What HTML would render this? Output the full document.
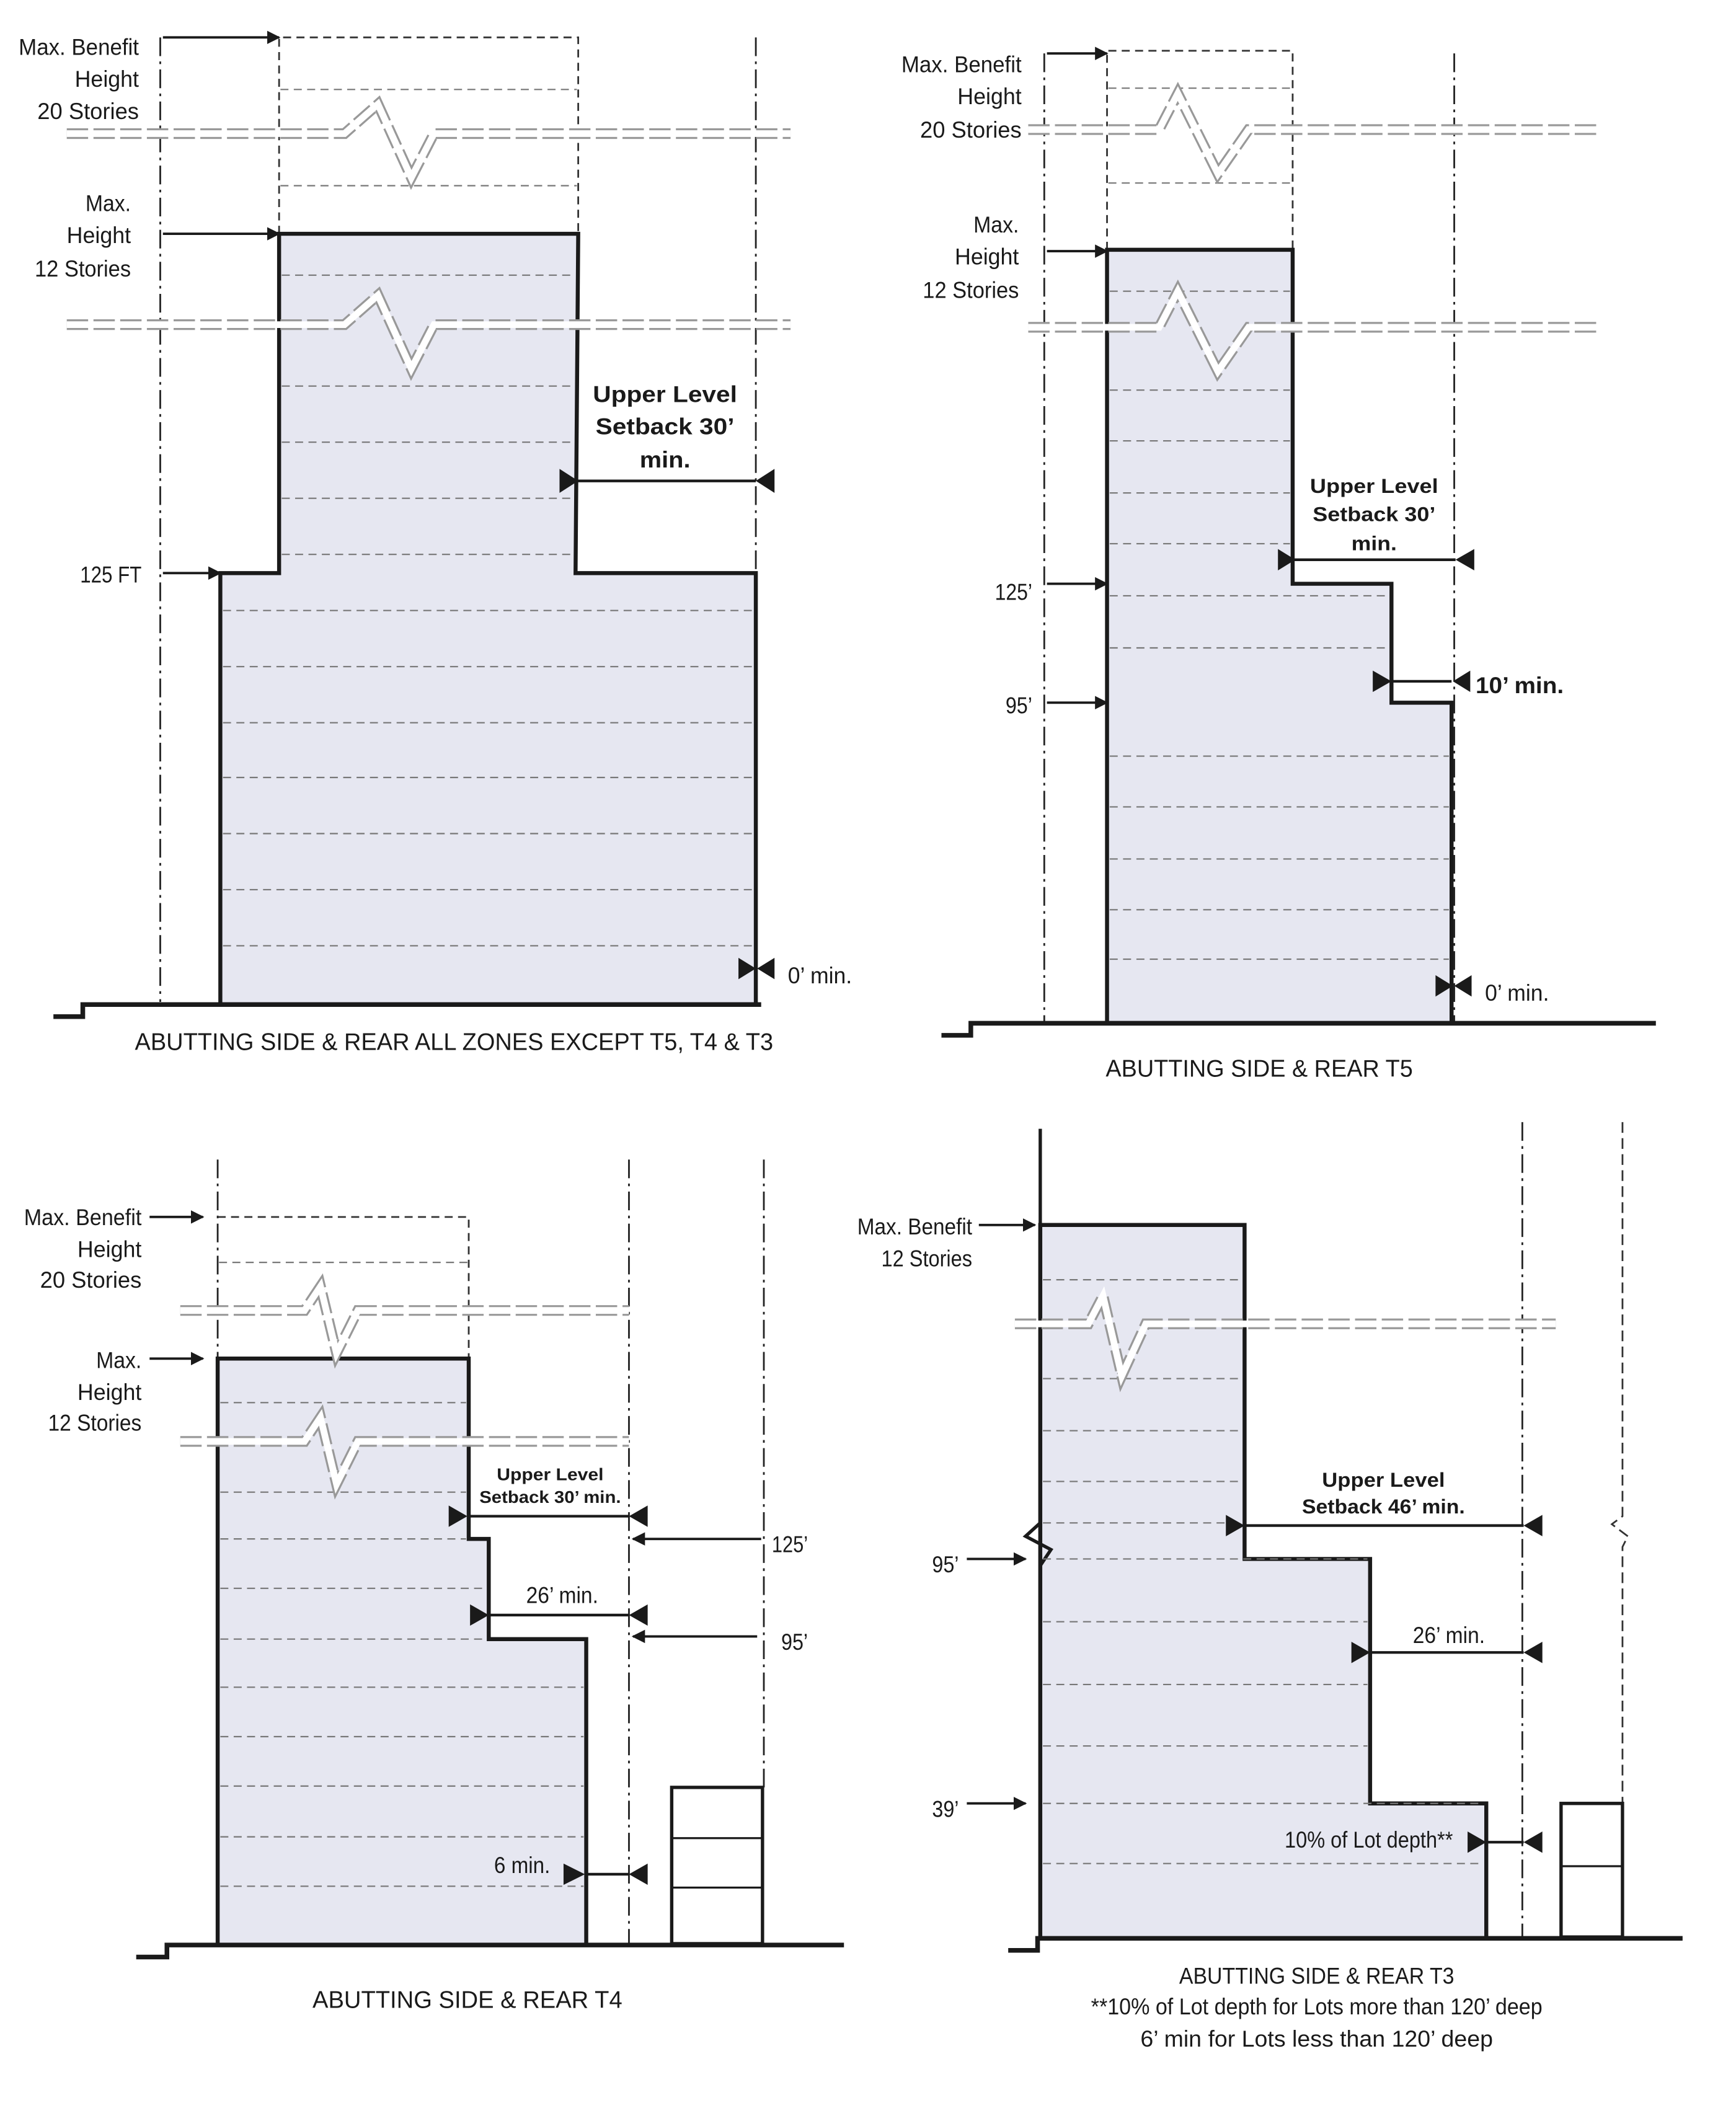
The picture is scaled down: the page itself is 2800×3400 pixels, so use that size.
<!DOCTYPE html>
<html><head><meta charset="utf-8"><style>
html,body{margin:0;padding:0;background:#fff;}
svg{display:block;}
text{font-family:"Liberation Sans",sans-serif;fill:#1a1a1a;}
.l{font-size:17px;}
.b{font-weight:bold;}
.c{font-size:18px;}
</style></head><body>
<svg width="2800" height="3400" viewBox="0 0 1300 1578" preserveAspectRatio="none" xmlns="http://www.w3.org/2000/svg">
<defs>
<marker id="ah" markerWidth="10" markerHeight="10" refX="9" refY="5" orient="auto" markerUnits="userSpaceOnUse" viewBox="0 0 10 10"><path d="M0,0 L10,5 L0,10 z" fill="#1a1a1a"/></marker>
</defs>
<style>
.dd{stroke:#222;stroke-width:1.3;fill:none;stroke-dasharray:14 4 2 4;}
.ds{stroke:#333;stroke-width:1.3;fill:none;stroke-dasharray:6 4;}
.st{stroke:#777;stroke-width:1;fill:none;stroke-dasharray:6 4;}
.bld{fill:#e6e7f1;stroke:#1a1a1a;stroke-width:3;}
.gr{stroke:#1a1a1a;stroke-width:3.5;fill:none;}
.ar{stroke:#1a1a1a;stroke-width:1.8;fill:none;}
.bkA{stroke:#999;stroke-width:8;fill:none;stroke-dasharray:16 4;}
.bkB{stroke:#fff;stroke-width:5;fill:none;}
.tri{fill:#1a1a1a;}
.dim{stroke:#1a1a1a;stroke-width:2;}
</style>

<!-- ============ PANEL 1 ============ -->
<line class="dd" x1="120" y1="28" x2="120" y2="750"/>
<line class="dd" x1="566" y1="28" x2="566" y2="752"/>
<polyline class="ds" points="209,175 209,28 433,28 433,175"/>
<line class="st" x1="210" y1="67" x2="432" y2="67"/>
<line class="st" x1="210" y1="139" x2="432" y2="139"/>
<path class="bld" d="M165,752 L165,429 L209,429 L209,175 L433,175 L431,429 L566,429 L566,752"/>
<g class="st">
<line x1="167" y1="457" x2="564" y2="457"/><line x1="167" y1="499" x2="564" y2="499"/><line x1="167" y1="541" x2="564" y2="541"/><line x1="167" y1="582" x2="564" y2="582"/><line x1="167" y1="624" x2="564" y2="624"/><line x1="167" y1="666" x2="564" y2="666"/><line x1="167" y1="708" x2="564" y2="708"/>
<line x1="211" y1="206" x2="431" y2="206"/><line x1="211" y1="289" x2="431" y2="289"/><line x1="211" y1="331" x2="431" y2="331"/><line x1="211" y1="373" x2="431" y2="373"/><line x1="211" y1="415" x2="431" y2="415"/>
</g>
<polyline class="bkA" points="50,100 258,100 283,78 308,133 325,100 592,100"/>
<polyline class="bkB" points="50,100 258,100 283,78 308,133 325,100 592,100"/>
<polyline class="bkA" points="50,243 258,243 283,221 308,276 325,243 592,243"/>
<polyline class="bkB" points="50,243 258,243 283,221 308,276 325,243 592,243"/>
<path class="gr" d="M40,761 L62,761 L62,752 L570,752"/>
<text class="l" x="104" y="41" text-anchor="end" textLength="90" lengthAdjust="spacingAndGlyphs">Max. Benefit</text>
<text class="l" x="104" y="65" text-anchor="end" textLength="48" lengthAdjust="spacingAndGlyphs">Height</text>
<text class="l" x="104" y="89" text-anchor="end" textLength="76" lengthAdjust="spacingAndGlyphs">20 Stories</text>
<line class="ar" x1="122" y1="28" x2="209" y2="28" marker-end="url(#ah)"/>
<text class="l" x="98" y="158" text-anchor="end" textLength="34" lengthAdjust="spacingAndGlyphs">Max.</text>
<text class="l" x="98" y="182" text-anchor="end" textLength="48" lengthAdjust="spacingAndGlyphs">Height</text>
<text class="l" x="98" y="207" text-anchor="end" textLength="72" lengthAdjust="spacingAndGlyphs">12 Stories</text>
<line class="ar" x1="122" y1="175" x2="209" y2="175" marker-end="url(#ah)"/>
<text class="l" x="106" y="436" text-anchor="end" textLength="46" lengthAdjust="spacingAndGlyphs">125 FT</text>
<line class="ar" x1="122" y1="429" x2="165" y2="429" marker-end="url(#ah)"/>
<text class="l b" x="498" y="301" text-anchor="middle" textLength="108" lengthAdjust="spacingAndGlyphs">Upper Level</text>
<text class="l b" x="498" y="325" text-anchor="middle" textLength="104" lengthAdjust="spacingAndGlyphs">Setback 30’</text>
<text class="l b" x="498" y="350" text-anchor="middle" textLength="38" lengthAdjust="spacingAndGlyphs">min.</text>
<line class="dim" x1="431" y1="360" x2="566" y2="360"/>
<polygon class="tri" points="419,351 419,369 433,360"/>
<polygon class="tri" points="580,351 580,369 566,360"/>
<polygon class="tri" points="553,717 553,733 566,725"/>
<polygon class="tri" points="580,717 580,733 567,725"/>
<text class="l" x="590" y="736" textLength="48" lengthAdjust="spacingAndGlyphs">0’ min.</text>
<text class="c" x="340" y="786" text-anchor="middle" textLength="478" lengthAdjust="spacingAndGlyphs">ABUTTING SIDE &amp; REAR ALL ZONES EXCEPT T5, T4 &amp; T3</text>

<!-- ============ PANEL 2 ============ -->
<line class="dd" x1="782" y1="40" x2="782" y2="765"/>
<line class="dd" x1="1089" y1="40" x2="1089" y2="765"/>
<polyline class="ds" points="829,187 829,38 968,38 968,187"/>
<line class="st" x1="830" y1="66" x2="967" y2="66"/>
<line class="st" x1="830" y1="137" x2="967" y2="137"/>
<path class="bld" d="M829,766 L829,187 L968,187 L968,437 L1042,437 L1042,526 L1087,526 L1087,766"/>
<g class="st">
<line x1="831" y1="218" x2="966" y2="218"/><line x1="831" y1="292" x2="966" y2="292"/><line x1="831" y1="330" x2="966" y2="330"/><line x1="831" y1="369" x2="966" y2="369"/><line x1="831" y1="407" x2="966" y2="407"/>
<line x1="831" y1="446" x2="1040" y2="446"/><line x1="831" y1="485" x2="1040" y2="485"/>
<line x1="831" y1="566" x2="1085" y2="566"/><line x1="831" y1="604" x2="1085" y2="604"/><line x1="831" y1="643" x2="1085" y2="643"/><line x1="831" y1="681" x2="1085" y2="681"/><line x1="831" y1="718" x2="1085" y2="718"/>
</g>
<polyline class="bkA" points="770,97 868,97 882,70 912,130 935,97 1198,97"/>
<polyline class="bkB" points="770,97 868,97 882,70 912,130 935,97 1198,97"/>
<polyline class="bkA" points="770,245 868,245 882,218 912,278 935,245 1198,245"/>
<polyline class="bkB" points="770,245 868,245 882,218 912,278 935,245 1198,245"/>
<path class="gr" d="M705,775 L727,775 L727,766 L1240,766"/>
<text class="l" x="765" y="54" text-anchor="end" textLength="90" lengthAdjust="spacingAndGlyphs">Max. Benefit</text>
<text class="l" x="765" y="78" text-anchor="end" textLength="48" lengthAdjust="spacingAndGlyphs">Height</text>
<text class="l" x="765" y="103" text-anchor="end" textLength="76" lengthAdjust="spacingAndGlyphs">20 Stories</text>
<line class="ar" x1="784" y1="40" x2="829" y2="40" marker-end="url(#ah)"/>
<text class="l" x="763" y="174" text-anchor="end" textLength="34" lengthAdjust="spacingAndGlyphs">Max.</text>
<text class="l" x="763" y="198" text-anchor="end" textLength="48" lengthAdjust="spacingAndGlyphs">Height</text>
<text class="l" x="763" y="223" text-anchor="end" textLength="72" lengthAdjust="spacingAndGlyphs">12 Stories</text>
<line class="ar" x1="784" y1="188" x2="829" y2="188" marker-end="url(#ah)"/>
<text class="l" x="773" y="449" text-anchor="end" textLength="28" lengthAdjust="spacingAndGlyphs">125’</text>
<line class="ar" x1="784" y1="437" x2="829" y2="437" marker-end="url(#ah)"/>
<text class="l" x="773" y="534" text-anchor="end" textLength="20" lengthAdjust="spacingAndGlyphs">95’</text>
<line class="ar" x1="784" y1="526" x2="829" y2="526" marker-end="url(#ah)"/>
<text class="b" font-size="15" x="1029" y="369" text-anchor="middle" textLength="96" lengthAdjust="spacingAndGlyphs">Upper Level</text>
<text class="b" font-size="15" x="1029" y="390" text-anchor="middle" textLength="92" lengthAdjust="spacingAndGlyphs">Setback 30’</text>
<text class="b" font-size="15" x="1029" y="412" text-anchor="middle" textLength="34" lengthAdjust="spacingAndGlyphs">min.</text>
<line class="dim" x1="968" y1="419" x2="1090" y2="419"/>
<polygon class="tri" points="957,411 957,427 970,419"/>
<polygon class="tri" points="1104,411 1104,427 1090,419"/>
<line class="dim" x1="1042" y1="510" x2="1087" y2="510"/>
<polygon class="tri" points="1028,502 1028,518 1042,510"/>
<polygon class="tri" points="1101,502 1101,518 1088,510"/>
<text class="l b" x="1105" y="519" textLength="66" lengthAdjust="spacingAndGlyphs">10’ min.</text>
<polygon class="tri" points="1075,730 1075,746 1088,738"/>
<polygon class="tri" points="1102,730 1102,746 1089,738"/>
<text class="l" x="1112" y="749" textLength="48" lengthAdjust="spacingAndGlyphs">0’ min.</text>
<text class="c" x="943" y="806" text-anchor="middle" textLength="230" lengthAdjust="spacingAndGlyphs">ABUTTING SIDE &amp; REAR T5</text>

<!-- ============ PANEL 3 ============ -->
<line class="dd" x1="163" y1="868" x2="163" y2="1455"/>
<line class="dd" x1="471" y1="868" x2="471" y2="1455"/>
<line class="dd" x1="572" y1="868" x2="572" y2="1340"/>
<polyline class="ds" points="163,911 351,911 351,1017"/>
<line class="st" x1="164" y1="945" x2="350" y2="945"/>
<path class="bld" d="M163,1455 L163,1017 L351,1017 L351,1152 L366,1152 L366,1227 L439,1227 L439,1455"/>
<g class="st">
<line x1="165" y1="1050" x2="349" y2="1050"/><line x1="165" y1="1117" x2="349" y2="1117"/><line x1="165" y1="1152" x2="349" y2="1152"/>
<line x1="165" y1="1189" x2="364" y2="1189"/><line x1="165" y1="1227" x2="364" y2="1227"/>
<line x1="165" y1="1263" x2="437" y2="1263"/><line x1="165" y1="1300" x2="437" y2="1300"/><line x1="165" y1="1337" x2="437" y2="1337"/><line x1="165" y1="1375" x2="437" y2="1375"/><line x1="165" y1="1412" x2="437" y2="1412"/>
</g>
<polyline class="bkA" points="135,981 228,981 240,963 252,1013 268,981 471,981"/>
<polyline class="bkB" points="135,981 228,981 240,963 252,1013 268,981 471,981"/>
<polyline class="bkA" points="135,1079 228,1079 240,1061 252,1111 268,1079 471,1079"/>
<polyline class="bkB" points="135,1079 228,1079 240,1061 252,1111 268,1079 471,1079"/>
<rect x="503" y="1338" width="68" height="117" fill="#fff" stroke="#1a1a1a" stroke-width="2.5"/>
<line x1="503" y1="1376" x2="571" y2="1376" stroke="#1a1a1a" stroke-width="1.5"/>
<line x1="503" y1="1413" x2="571" y2="1413" stroke="#1a1a1a" stroke-width="1.5"/>
<path class="gr" d="M102,1465 L125,1465 L125,1456 L632,1456"/>
<text class="l" x="106" y="917" text-anchor="end" textLength="88" lengthAdjust="spacingAndGlyphs">Max. Benefit</text>
<text class="l" x="106" y="941" text-anchor="end" textLength="48" lengthAdjust="spacingAndGlyphs">Height</text>
<text class="l" x="106" y="964" text-anchor="end" textLength="76" lengthAdjust="spacingAndGlyphs">20 Stories</text>
<line class="ar" x1="112" y1="911" x2="152" y2="911" marker-end="url(#ah)"/>
<text class="l" x="106" y="1024" text-anchor="end" textLength="34" lengthAdjust="spacingAndGlyphs">Max.</text>
<text class="l" x="106" y="1048" text-anchor="end" textLength="48" lengthAdjust="spacingAndGlyphs">Height</text>
<text class="l" x="106" y="1071" text-anchor="end" textLength="70" lengthAdjust="spacingAndGlyphs">12 Stories</text>
<line class="ar" x1="112" y1="1017" x2="152" y2="1017" marker-end="url(#ah)"/>
<text class="b" font-size="13" x="412" y="1108" text-anchor="middle" textLength="80" lengthAdjust="spacingAndGlyphs">Upper Level</text>
<text class="b" font-size="13" x="412" y="1125" text-anchor="middle" textLength="106" lengthAdjust="spacingAndGlyphs">Setback 30’ min.</text>
<line class="dim" x1="350" y1="1135" x2="471" y2="1135"/>
<polygon class="tri" points="336,1127 336,1143 350,1135"/>
<polygon class="tri" points="485,1127 485,1143 471,1135"/>
<line class="ar" x1="570" y1="1152" x2="474" y2="1152" marker-end="url(#ah)"/>
<text class="l" x="578" y="1162" textLength="27" lengthAdjust="spacingAndGlyphs">125’</text>
<text class="l" x="421" y="1200" text-anchor="middle" textLength="54" lengthAdjust="spacingAndGlyphs">26’ min.</text>
<line class="dim" x1="366" y1="1209" x2="471" y2="1209"/>
<polygon class="tri" points="352,1201 352,1217 366,1209"/>
<polygon class="tri" points="485,1201 485,1217 471,1209"/>
<line class="ar" x1="567" y1="1225" x2="474" y2="1225" marker-end="url(#ah)"/>
<text class="l" x="585" y="1235" textLength="20" lengthAdjust="spacingAndGlyphs">95’</text>
<text class="l" x="370" y="1402" textLength="42" lengthAdjust="spacingAndGlyphs">6 min.</text>
<line class="dim" x1="438" y1="1403" x2="471" y2="1403"/>
<polygon class="tri" points="422,1395 422,1411 438,1403"/>
<polygon class="tri" points="485,1395 485,1411 471,1403"/>
<text class="c" x="350" y="1503" text-anchor="middle" textLength="232" lengthAdjust="spacingAndGlyphs">ABUTTING SIDE &amp; REAR T4</text>

<!-- ============ PANEL 4 ============ -->
<line class="dd" x1="1140" y1="840" x2="1140" y2="1450"/>
<polyline points="1215,840 1215,1135 1207,1141 1219,1150 1215,1158 1215,1350" stroke="#333" stroke-width="1.3" fill="none" stroke-dasharray="8 4"/>
<path class="bld" d="M779,1450 L779,917 L932,917 L932,1167 L1026,1167 L1026,1350 L1113,1350 L1113,1450"/>
<polyline points="779,845 779,1140 768,1150 787,1160 779,1172 779,1450" fill="none" stroke="#1a1a1a" stroke-width="2.5"/>
<g class="st">
<line x1="781" y1="958" x2="930" y2="958"/><line x1="781" y1="1032" x2="930" y2="1032"/><line x1="781" y1="1071" x2="930" y2="1071"/><line x1="781" y1="1109" x2="930" y2="1109"/><line x1="781" y1="1140" x2="930" y2="1140"/>
<line x1="781" y1="1167" x2="1024" y2="1167"/><line x1="781" y1="1214" x2="1024" y2="1214"/><line x1="781" y1="1261" x2="1024" y2="1261"/><line x1="781" y1="1307" x2="1024" y2="1307"/>
<line x1="781" y1="1350" x2="1111" y2="1350"/><line x1="781" y1="1395" x2="1111" y2="1395"/>
</g>
<polyline class="bkA" points="760,991 815,991 826,970 840,1030 858,991 1165,991"/>
<polyline class="bkB" points="760,991 815,991 826,970 840,1030 858,991 1165,991"/>
<rect x="1169" y="1350" width="46" height="100" fill="#fff" stroke="#1a1a1a" stroke-width="2.5"/>
<line x1="1169" y1="1397" x2="1215" y2="1397" stroke="#1a1a1a" stroke-width="1.5"/>
<path class="gr" d="M755,1460 L777,1460 L777,1451 L1260,1451"/>
<text class="l" x="728" y="924" text-anchor="end" textLength="86" lengthAdjust="spacingAndGlyphs">Max. Benefit</text>
<text class="l" x="728" y="948" text-anchor="end" textLength="68" lengthAdjust="spacingAndGlyphs">12 Stories</text>
<line class="ar" x1="733" y1="917" x2="775" y2="917" marker-end="url(#ah)"/>
<text class="b" font-size="15" x="1036" y="1113" text-anchor="middle" textLength="92" lengthAdjust="spacingAndGlyphs">Upper Level</text>
<text class="b" font-size="15" x="1036" y="1133" text-anchor="middle" textLength="122" lengthAdjust="spacingAndGlyphs">Setback 46’ min.</text>
<line class="dim" x1="932" y1="1142" x2="1141" y2="1142"/>
<polygon class="tri" points="918,1134 918,1150 932,1142"/>
<polygon class="tri" points="1155,1134 1155,1150 1141,1142"/>
<text class="l" x="718" y="1177" text-anchor="end" textLength="20" lengthAdjust="spacingAndGlyphs">95’</text>
<line class="ar" x1="724" y1="1167" x2="768" y2="1167" marker-end="url(#ah)"/>
<text class="l" x="1085" y="1230" text-anchor="middle" textLength="54" lengthAdjust="spacingAndGlyphs">26’ min.</text>
<line class="dim" x1="1026" y1="1237" x2="1141" y2="1237"/>
<polygon class="tri" points="1012,1229 1012,1245 1026,1237"/>
<polygon class="tri" points="1155,1229 1155,1245 1141,1237"/>
<text class="l" x="718" y="1360" text-anchor="end" textLength="20" lengthAdjust="spacingAndGlyphs">39’</text>
<line class="ar" x1="724" y1="1350" x2="768" y2="1350" marker-end="url(#ah)"/>
<text class="l" x="1088" y="1383" text-anchor="end" textLength="126" lengthAdjust="spacingAndGlyphs">10% of Lot depth**</text>
<line class="dim" x1="1113" y1="1379" x2="1141" y2="1379"/>
<polygon class="tri" points="1099,1371 1099,1387 1113,1379"/>
<polygon class="tri" points="1155,1371 1155,1387 1141,1379"/>
<text class="l" x="986" y="1485" text-anchor="middle" textLength="206" lengthAdjust="spacingAndGlyphs">ABUTTING SIDE &amp; REAR T3</text>
<text class="l" x="986" y="1508" text-anchor="middle" textLength="338" lengthAdjust="spacingAndGlyphs">**10% of Lot depth for Lots more than 120’ deep</text>
<text class="l" x="986" y="1532" text-anchor="middle" textLength="264" lengthAdjust="spacingAndGlyphs">6’ min for Lots less than 120’ deep</text>
</svg>
</body></html>
